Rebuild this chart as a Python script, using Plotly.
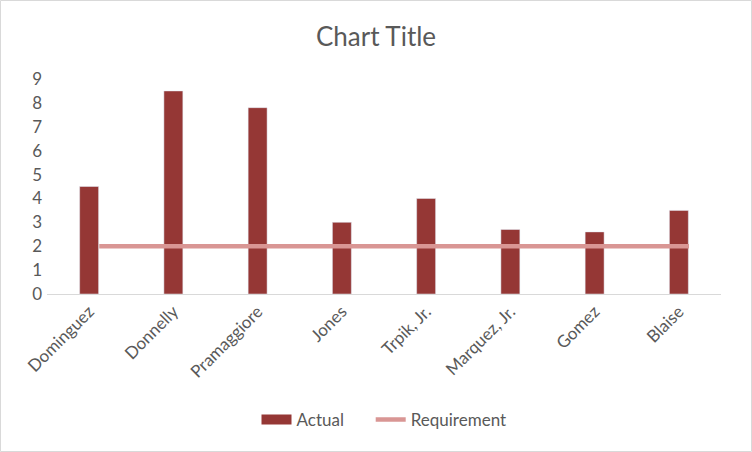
import plotly.graph_objects as go

categories = ["Dominguez", "Donnelly", "Pramaggiore", "Jones", "Trpik, Jr.", "Marquez, Jr.", "Gomez", "Blaise"]
actual = [4.5, 8.5, 7.8, 3.0, 4.0, 2.7, 2.6, 3.5]
requirement = [2, 2, 2, 2, 2, 2, 2, 2]
y_ticks = [0, 1, 2, 3, 4, 5, 6, 7, 8, 9]

W, H = 752, 452
ml, mr, mt, mb = 47, 31, 79, 158
pw, ph = W - ml - mr, H - mt - mb

font = "Lato, 'Open Sans', sans-serif"
grey = "#595959"
bar_color = "#953735"
line_color = "#d99694"

fig = go.Figure()
fig.add_trace(go.Bar(x=categories, y=actual, name="Actual", marker_color=bar_color,
                     width=0.225, xaxis="x", yaxis="y", showlegend=False, legendgroup="a"))
# legend-only entry giving a wide rectangular swatch like the reference
fig.add_trace(go.Scatter(x=[None], y=[None], name="Actual\u00a0\u00a0\u00a0\u00a0\u00a0", mode="lines",
                         line=dict(color=bar_color, width=10), legendgroup="a",
                         xaxis="x", yaxis="y"))
fig.add_trace(go.Scatter(x=categories, y=requirement, name="Requirement", mode="lines",
                         line=dict(color=line_color, width=4.5), xaxis="x2", yaxis="y"))

fig.update_layout(
    width=W, height=H,
    margin=dict(l=ml, r=mr, t=mt, b=mb),
    paper_bgcolor="white", plot_bgcolor="white",
    title=dict(text="Chart Title", x=0.5, xanchor="center", y=1 - 37 / H, yanchor="middle",
               font=dict(family=font, size=26, color=grey)),
    font=dict(family=font, size=16, color=grey),
    xaxis=dict(type="category", range=[-0.5, 7.5], showgrid=False, showline=True,
               linecolor="#d9d9d9", linewidth=1, tickangle=-45, ticks="",
               tickfont=dict(size=17, color=grey), zeroline=False),
    xaxis2=dict(type="category", overlaying="x", range=[-0.5 - 0.12, 7.5 - 0.12],
                visible=False, showgrid=False),
    yaxis=dict(range=[0, 9], tickvals=y_ticks, showgrid=False, showline=False, zeroline=False,
               ticks="", tickfont=dict(size=17, color=grey), ticklabelstandoff=4),
    showlegend=True,
    legend=dict(orientation="h", x=0.5, xanchor="center", y=(H - mb - 420) / ph,
                yanchor="middle", font=dict(size=17, color=grey),
                traceorder="normal"),
)

fig.add_shape(type="rect", xref="paper", yref="paper",
              x0=-(ml - 0.5) / pw, x1=1 + (mr - 0.5) / pw,
              y0=-(mb - 0.5) / ph, y1=1 + (mt - 0.5) / ph,
              line=dict(color="#d9d9d9", width=1), layer="below")

fig.write_html("out.html", config={"displayModeBar": False},
               post_script="document.body.style.margin='0';document.body.style.overflow='hidden';")
